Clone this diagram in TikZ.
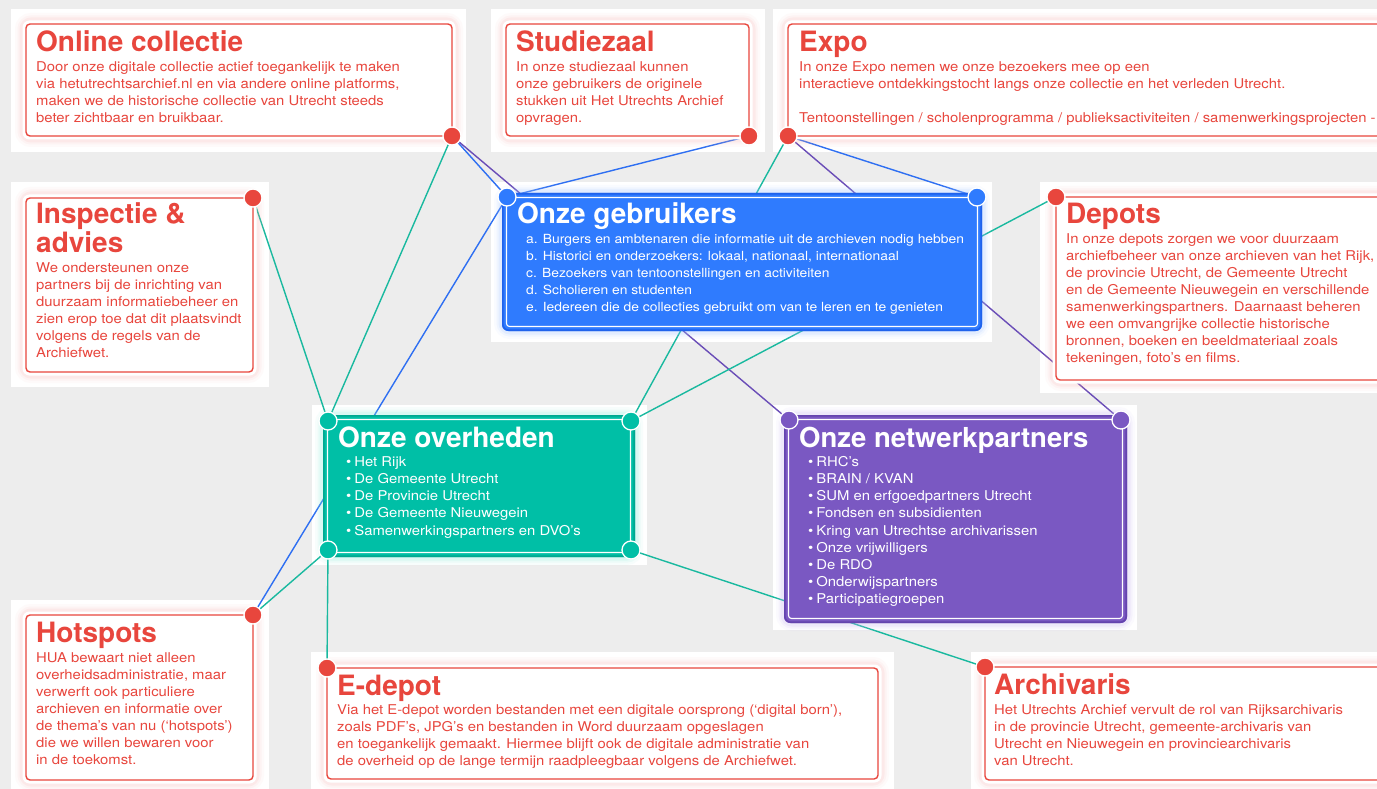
\documentclass[tikz,border=0pt]{standalone}
\usepackage{fontspec}
\setmainfont{TeX Gyre Heros}
\newfontfamily\bodyf[FakeStretch=1.1]{TeX Gyre Heros}
\definecolor{bg}{HTML}{EDEDED}
\definecolor{cred}{HTML}{E8463D}
\definecolor{glowred}{HTML}{F6A8A2}
\definecolor{cblue}{HTML}{2F7BFE}
\definecolor{cblueb}{HTML}{1F62EC}
\definecolor{glowblue}{HTML}{9FC2FF}
\definecolor{cteal}{HTML}{00BFA6}
\definecolor{ctealb}{HTML}{00A890}
\definecolor{glowteal}{HTML}{86EAD9}
\definecolor{cpurple}{HTML}{7A58C2}
\definecolor{cpurpleb}{HTML}{6444AE}
\definecolor{glowpurple}{HTML}{C6B4F0}
\definecolor{lteal}{HTML}{19B99F}
\definecolor{lblue}{HTML}{2E6FF2}
\definecolor{lpurple}{HTML}{6A4DB7}
\newcommand\panel[4]{\fill[white] (#1,#2) rectangle (#3,#4);}
\newcommand\redcard[4]{%
  \foreach \w/\o in {16/0.05,11/0.08,7/0.12} {\draw[line width=\w pt, draw=glowred, opacity=\o, rounded corners=8] (#1-3,#2-3) rectangle (#3+3,#4+3);}
  \fill[white, rounded corners=7] (#1-3.5,#2-3.5) rectangle (#3+3.5,#4+3.5);
  \draw[cred, line width=1.4pt, rounded corners=4] (#1,#2) rectangle (#3,#4);}
\newcommand\colcard[7]{%
  \foreach \w/\o in {16/0.06,11/0.1,7/0.16} {\draw[line width=\w pt, draw=#7, opacity=\o, rounded corners=8] (#1,#2) rectangle (#3,#4);}
  \fill[#5, rounded corners=6] (#1,#2) rectangle (#3,#4);
  \draw[#6, line width=1.6pt, rounded corners=6] (#1+0.8,#2+0.8) rectangle (#3-0.8,#4-0.8);
  \draw[white, line width=1.1pt, rounded corners=3] (#1+4.5,#2+4.5) rectangle (#3-4.5,#4-4.5);}
\tikzset{
  ttl/.style={anchor=base west, inner sep=0pt, font=\fontsize{28}{30}\selectfont\bfseries, text=cred},
  bodytxt/.style={anchor=north west, inner sep=0pt, align=left, yshift=11.9pt, font=\bodyf\fontsize{13.5}{17}\selectfont, text=cred},
  listtxt/.style={bodytxt, font=\bodyf\fontsize{13.5}{17.2}\selectfont, text=white},
  conn/.style={line width=1.4pt},
  dot/.style={circle, minimum size=18pt, inner sep=0pt, fill=#1, draw=white, line width=1.3pt},
}
\begin{document}
\begin{tikzpicture}[x=1pt,y=-1pt]
\useasboundingbox (0,0) rectangle (1377,789);
\clip (0,0) rectangle (1377,789);
\fill[bg] (0,0) rectangle (1377,789);
% white backing panels
\panel{11}{9}{466}{152}
\panel{491}{9}{765}{152}
\panel{773}{9}{1380}{152}
\panel{11}{182}{269}{387}
\panel{491}{182}{992}{342}
\panel{1040}{182}{1380}{393}
\panel{312}{405}{647}{565}
\panel{773}{405}{1137}{630}
\panel{11}{600}{269}{792}
\panel{311}{652}{894}{792}
\panel{971}{652}{1380}{792}
% anchor points
\coordinate (oc) at (452,136);
\coordinate (sz) at (749,136);
\coordinate (ex) at (788,136);
\coordinate (in) at (253,198);
\coordinate (dp) at (1056,197);
\coordinate (gbL) at (507,197);
\coordinate (gbR) at (977,197);
\coordinate (ovTL) at (328,421);
\coordinate (ovTR) at (631,421);
\coordinate (ovBL) at (328,550);
\coordinate (ovBR) at (631,550);
\coordinate (npL) at (789,420);
\coordinate (npR) at (1121,420);
\coordinate (hs) at (253,615);
\coordinate (ed) at (327,668);
\coordinate (ar) at (985,667);
% connectors
\draw[conn, lteal] (oc) -- (ovTL);
\draw[conn, lblue] (oc) -- (gbL);
\draw[conn, lpurple] (oc) -- (npL);
\draw[conn, lblue] (sz) -- (gbL);
\draw[conn, lteal] (ex) -- (ovTR);
\draw[conn, lpurple] (ex) -- (npR);
\draw[conn, lblue] (ex) -- (gbR);
\draw[conn, lteal] (in) -- (ovTL);
\draw[conn, lteal] (dp) -- (ovTR);
\draw[conn, lblue] (gbL) -- (hs);
\draw[conn, lteal] (hs) -- (ovBL);
\draw[conn, lteal] (ovBL) -- (ed);
\draw[conn, lteal] (ovBR) -- (ar);
% cards
\redcard{26}{24}{452}{136}
\redcard{506}{24}{749}{136}
\redcard{788}{24}{1400}{136}
\redcard{26}{198}{253}{372}
\redcard{1056}{197}{1400}{380}
\redcard{26}{615}{253}{780}
\redcard{327}{668}{878}{779}
\redcard{985}{667}{1400}{780}
\colcard{502}{193}{982}{331}{cblue}{cblueb}{glowblue}
\colcard{323}{415}{635}{557}{cteal}{ctealb}{glowteal}
\colcard{784}{415}{1127}{623}{cpurple}{cpurpleb}{glowpurple}
% dots
\node[dot=cred] (doc) at (oc) {};
\node[dot=cred] (dsz) at (sz) {};
\node[dot=cred] (dex) at (ex) {};
\node[dot=cred] (din) at (in) {};
\node[dot=cred] (ddp) at (dp) {};
\node[dot=cred] (dhs) at (hs) {};
\node[dot=cred] (ded) at (ed) {};
\node[dot=cred] (dar) at (ar) {};
\node[dot=cblue] (dgbL) at (gbL) {};
\node[dot=cblue] (dgbR) at (gbR) {};
\node[dot=cteal] (dovTL) at (ovTL) {};
\node[dot=cteal] (dovTR) at (ovTR) {};
\node[dot=cteal] (dovBL) at (ovBL) {};
\node[dot=cteal] (dovBR) at (ovBR) {};
\node[dot=cpurple] (dnpL) at (npL) {};
\node[dot=cpurple] (dnpR) at (npR) {};
% texts
\node[ttl] (t1) at (36,52) {Online collectie};
\node[bodytxt] (b1) at (36,71) {\strut Door onze digitale collectie actief toegankelijk te maken\\via hetutrechtsarchief.nl en via andere online platforms,\\maken we de historische collectie van Utrecht steeds\\beter zichtbaar en bruikbaar.};
\node[ttl] (t2) at (516,52) {Studiezaal};
\node[bodytxt] (b2) at (516,71) {\strut In onze studiezaal kunnen\\onze gebruikers de originele\\stukken uit Het Utrechts Archief\\opvragen.};
\node[ttl] (t3) at (799,52) {Expo};
\node[bodytxt] (b3) at (799,71) {\strut In onze Expo nemen we onze bezoekers mee op een\\interactieve ontdekkingstocht langs onze collectie en het verleden Utrecht.\\[17pt]Tentoonstellingen / scholenprogramma / publieksactiviteiten / samenwerkingsprojecten -};
\node[ttl] (t4a) at (36,223) {Inspectie \&};
\node[ttl] (t4b) at (36,252) {advies};
\node[bodytxt] (b4) at (36,272) {\strut We ondersteunen onze\\partners bij de inrichting van\\duurzaam informatiebeheer en\\zien erop toe dat dit plaatsvindt\\volgens de regels van de\\Archiefwet.};
\node[ttl, text=white] (t5) at (517,223) {Onze gebruikers};
\node[listtxt, font=\bodyf\fontsize{12.6}{17}\selectfont] (b5) at (526,243) {\strut a. Burgers en ambtenaren die informatie uit de archieven nodig hebben\\b. Historici en onderzoekers: lokaal, nationaal, internationaal\\c. Bezoekers van tentoonstellingen en activiteiten\\d. Scholieren en studenten\\e. Iedereen die de collecties gebruikt om van te leren en te genieten};
\node[ttl] (t6) at (1066,223) {Depots};
\node[bodytxt] (b6) at (1066,243) {\strut In onze depots zorgen we voor duurzaam\\archiefbeheer van onze archieven van het Rijk,\\de provincie Utrecht, de Gemeente Utrecht\\en de Gemeente Nieuwegein en verschillende\\samenwerkingspartners. Daarnaast beheren\\we een omvangrijke collectie historische\\bronnen, boeken en beeldmateriaal zoals\\tekeningen, foto’s en films.};
\node[ttl, text=white] (t7) at (338,447) {Onze overheden};
\node[listtxt] (b7) at (346,466) {\strut\textbullet\hspace{3pt}Het Rijk\\\textbullet\hspace{3pt}De Gemeente Utrecht\\\textbullet\hspace{3pt}De Provincie Utrecht\\\textbullet\hspace{3pt}De Gemeente Nieuwegein\\\textbullet\hspace{3pt}Samenwerkingspartners en DVO’s};
\node[ttl, text=white, font=\fontsize{27.5}{30}\selectfont\bfseries] (t8) at (799,447) {Onze netwerkpartners};
\node[listtxt] (b8) at (808,466) {\strut\textbullet\hspace{3pt}RHC’s\\\textbullet\hspace{3pt}BRAIN / KVAN\\\textbullet\hspace{3pt}SUM en erfgoedpartners Utrecht\\\textbullet\hspace{3pt}Fondsen en subsidienten\\\textbullet\hspace{3pt}Kring van Utrechtse archivarissen\\\textbullet\hspace{3pt}Onze vrijwilligers\\\textbullet\hspace{3pt}De RDO\\\textbullet\hspace{3pt}Onderwijspartners\\\textbullet\hspace{3pt}Participatiegroepen};
\node[ttl] (t9) at (36,642) {Hotspots};
\node[bodytxt] (b9) at (36,662) {\strut HUA bewaart niet alleen\\overheidsadministratie, maar\\verwerft ook particuliere\\archieven en informatie over\\de thema’s van nu (‘hotspots’)\\die we willen bewaren voor\\in de toekomst.};
\node[ttl] (t10) at (337,695) {E-depot};
\node[bodytxt] (b10) at (337,714) {\strut Via het E-depot worden bestanden met een digitale oorsprong (‘digital born’),\\zoals PDF’s, JPG’s en bestanden in Word duurzaam opgeslagen\\en toegankelijk gemaakt. Hiermee blijft ook de digitale administratie van\\de overheid op de lange termijn raadpleegbaar volgens de Archiefwet.};
\node[ttl] (t11) at (994,694) {Archivaris};
\node[bodytxt] (b11) at (994,714) {\strut Het Utrechts Archief vervult de rol van Rijksarchivaris\\in de provincie Utrecht, gemeente-archivaris van\\Utrecht en Nieuwegein en provinciearchivaris\\van Utrecht.};
\end{tikzpicture}
\end{document}
